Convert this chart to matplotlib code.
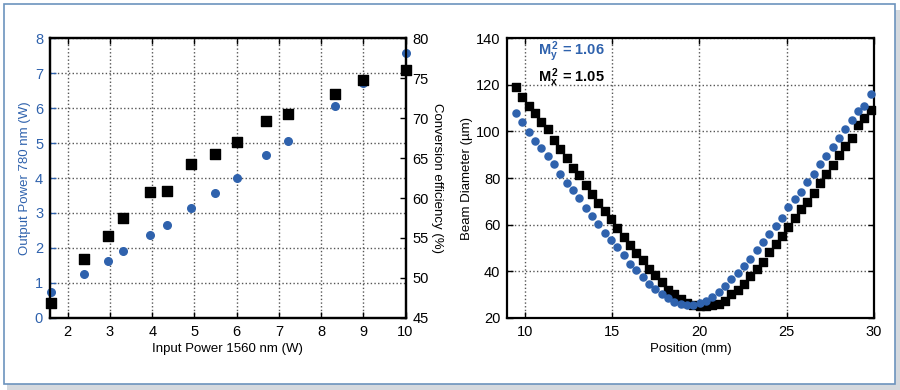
import numpy as np
import matplotlib
matplotlib.use("Agg")
import matplotlib.pyplot as plt
from matplotlib.patches import Rectangle

plt.rcParams["font.family"] = ["Liberation Sans", "DejaVu Sans"]
plt.rcParams["mathtext.fontset"] = "custom"
plt.rcParams["mathtext.rm"] = "Liberation Sans"
plt.rcParams["mathtext.bf"] = "Liberation Sans:bold"

BLUE = "#2f62ad"

# left panel: output power / conversion efficiency vs input power
p_in = [1.6, 2.39, 2.95, 3.3, 3.94, 4.36, 4.91, 5.48, 6.0, 6.7, 7.21, 8.33, 9.0, 10.0]
p_out = [0.73, 1.25, 1.62, 1.9, 2.38, 2.65, 3.14, 3.58, 4.01, 4.66, 5.07, 6.07, 6.71, 7.59]
eff = [46.8, 52.4, 55.2, 57.5, 60.7, 60.9, 64.2, 65.5, 67.0, 69.6, 70.5, 73.0, 74.8, 76.0]

# right panel: beam diameter vs position
pos = [9.50, 9.86, 10.23, 10.59, 10.95, 11.31, 11.68, 12.04, 12.40, 12.76,
       13.13, 13.49, 13.85, 14.22, 14.58, 14.94, 15.30, 15.67, 16.03, 16.39,
       16.75, 17.12, 17.48, 17.84, 18.21, 18.57, 18.93, 19.29, 19.66, 20.02,
       20.38, 20.74, 21.11, 21.47, 21.83, 22.20, 22.56, 22.92, 23.28, 23.65,
       24.01, 24.37, 24.73, 25.10, 25.46, 25.82, 26.19, 26.55, 26.91, 27.27,
       27.64, 28.00, 28.36, 28.72, 29.09, 29.45, 29.81]
diam_x = [119.0, 114.9, 111.0, 107.9, 103.9, 101.0, 96.4, 92.3, 88.7, 84.3,
          81.4, 76.9, 73.1, 69.3, 65.7, 62.4, 58.4, 54.7, 51.1, 47.7,
          44.7, 41.1, 38.6, 35.3, 32.1, 30.3, 28.0, 26.4, 25.4, 25.0,
          25.0, 25.3, 26.1, 27.4, 30.1, 31.9, 34.4, 37.9, 40.9, 44.0,
          48.1, 51.7, 55.1, 58.9, 62.7, 66.6, 69.9, 73.7, 77.7, 81.6,
          85.4, 89.9, 93.9, 97.1, 102.7, 105.9, 109.0]
diam_y = [108.0, 104.0, 99.7, 96.0, 92.9, 89.6, 85.9, 81.9, 77.9, 74.9,
          71.6, 67.0, 63.7, 60.1, 56.6, 53.6, 50.3, 46.9, 43.3, 40.7,
          37.6, 34.6, 32.3, 30.1, 28.6, 26.9, 26.1, 25.6, 25.4, 26.4,
          27.3, 29.1, 31.1, 33.7, 36.6, 39.3, 42.3, 45.3, 49.0, 52.4,
          56.1, 59.6, 63.0, 67.4, 70.9, 74.1, 78.1, 81.7, 85.9, 89.4,
          93.3, 97.3, 100.9, 105.1, 108.9, 111.1, 116.0]

fig = plt.figure(figsize=(9, 3.9), dpi=100)

# outer frame with a soft shadow
fig.patches.append(Rectangle((0.008, 0.0), 0.993, 0.975, transform=fig.transFigure,
                             facecolor="#d5d9de", edgecolor="none", zorder=-2))
fig.patches.append(Rectangle((0.004, 0.015), 0.99, 0.975, transform=fig.transFigure,
                             facecolor="white", edgecolor="#6c93bd", lw=1.2, zorder=-1))


def style(ax):
    ax.grid(True, linestyle=":", color="#555555", linewidth=1.0)
    ax.set_axisbelow(True)
    for s in ax.spines.values():
        s.set_linewidth(1.6)
    ax.tick_params(direction="in", length=4, width=1, labelsize=10.5, pad=5)


# a) left
ax1 = fig.add_axes([0.0556, 0.185, 0.395, 0.717])
ax1.scatter(p_in, p_out, s=30, marker="o", color=BLUE, zorder=3, clip_on=False)
ax1.set_xlim(1.58, 10)
ax1.set_ylim(0, 8)
ax1.set_xticks(range(2, 11))
ax1.set_yticks(range(0, 9))
style(ax1)
ax1.tick_params(axis="x", top=True)
ax1.tick_params(axis="y", colors=BLUE, labelcolor=BLUE)
ax1.set_xlabel("Input Power 1560 nm (W)", fontsize=9.5, labelpad=3)
ax1.set_ylabel("Output Power 780 nm (W)", fontsize=9.5, color=BLUE, labelpad=3)

ax2 = ax1.twinx()
ax2.scatter(p_in, eff, s=42, marker="s", color="black", zorder=4, clip_on=False)
ax2.set_ylim(45, 80)
ax2.set_yticks(range(45, 81, 5))
for s in ax2.spines.values():
    s.set_linewidth(1.6)
ax2.tick_params(direction="in", length=4, width=1, labelsize=10.5, pad=5)
ax2.set_ylabel("Conversion efficiency (%)", fontsize=9.5, rotation=270, labelpad=10)

# b) right
ax3 = fig.add_axes([0.5637, 0.185, 0.4073, 0.717])
ax3.scatter(pos, diam_x, s=34, marker="s", color="black", zorder=3, clip_on=False)
ax3.scatter(pos, diam_y, s=26, marker="o", color=BLUE, zorder=4, clip_on=False)
ax3.set_xlim(9, 30)
ax3.set_ylim(20, 140)
ax3.set_xticks([10, 15, 20, 25, 30])
ax3.set_yticks(range(20, 141, 20))
style(ax3)
ax3.tick_params(top=True, right=True)
ax3.set_xlabel("Position (mm)", fontsize=9.5, labelpad=3)
ax3.set_ylabel("Beam Diameter (\u00b5m)", fontsize=9.5, labelpad=2)
ax3.text(0.083, 0.95, r"$\mathbf{M_y^{\,2}}$ = 1.06", transform=ax3.transAxes, color=BLUE,
         fontsize=10.5, fontweight="bold", va="center")
ax3.text(0.083, 0.86, r"$\mathbf{M_x^{\,2}}$ = 1.05", transform=ax3.transAxes, color="black",
         fontsize=10.5, fontweight="bold", va="center")

fig.savefig("out.png", dpi=100)
